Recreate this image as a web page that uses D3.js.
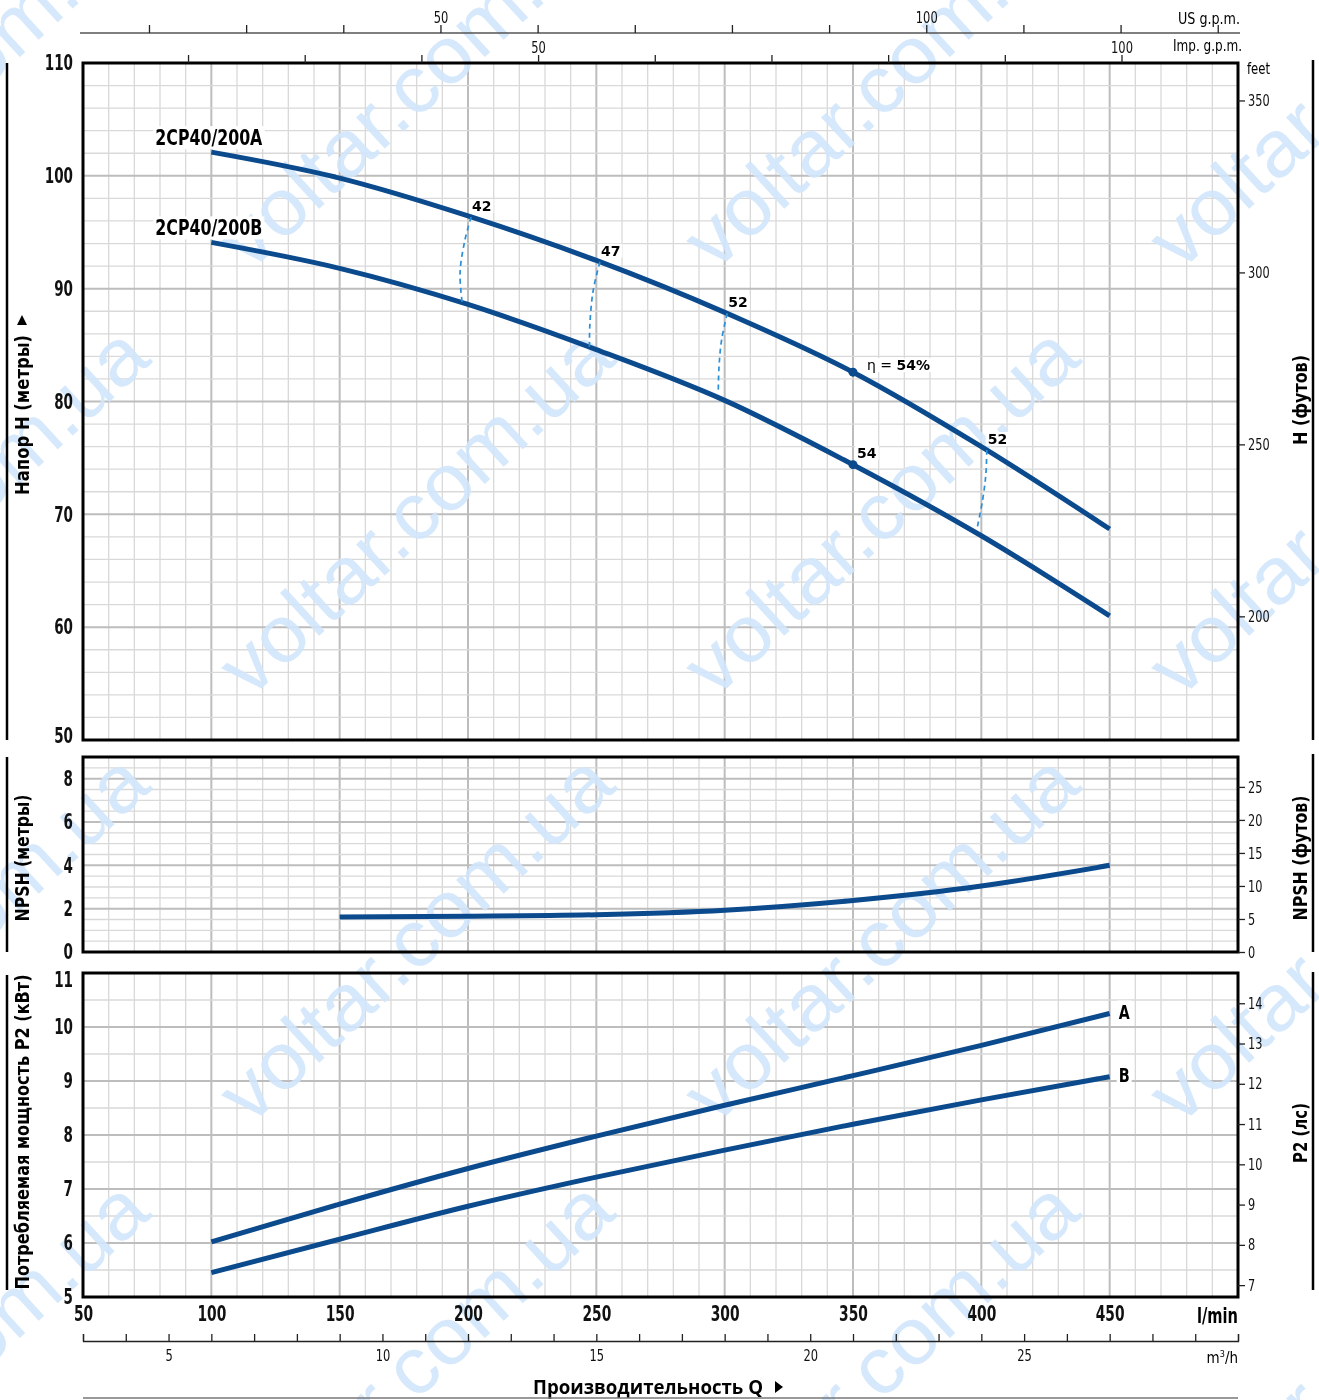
<!DOCTYPE html>
<html><head><meta charset="utf-8">
<script src="https://cdn.jsdelivr.net/npm/d3@7"></script>
<style>body{margin:0;background:#fff} svg{display:block}</style>
</head><body>
<svg id="chart" width="1319" height="1400"></svg>
<script>
// ---------------- data ----------------
const flowQ  = [100, 150, 200, 250, 300, 350, 400, 450];
const headA  = [102.1, 99.8, 96.45, 92.5, 87.9, 82.6, 76.0, 68.7];
const headB  = [94.1, 91.8, 88.6, 84.6, 80.1, 74.4, 68.1, 61.0];
const npshQ  = [150, 200, 250, 300, 350, 400, 450];
const npshM  = [1.62, 1.65, 1.72, 1.93, 2.38, 3.05, 4.0];
const powerA = [6.02, 6.72, 7.38, 7.98, 8.55, 9.1, 9.66, 10.25];
const powerB = [5.45, 6.07, 6.68, 7.22, 7.72, 8.2, 8.65, 9.08];
const modelNames = ["2CP40/200A", "2CP40/200B"];
const powerNames = ["A", "B"];
const effLabels = ["42", "47", "52", "52"];
const effLines = [
  [[201.2, 96.35], [198.8, 94.31], [196.9, 91.39], [197.7, 88.82]],
  [[251.4, 92.39], [248.8, 89.88], [247.5, 86.93], [247.3, 84.86]],
  [[301.0, 87.82], [298.8, 85.45], [297.8, 83.08], [297.5, 80.73]],
  [[402.1, 75.70], [401.8, 73.63], [400.5, 71.27], [398.2, 68.61]]
];
const bestQ = 350, bestEffLabel = "54";
const qTicks   = [50, 100, 150, 200, 250, 300, 350, 400, 450];
const hTicks   = [50, 60, 70, 80, 90, 100, 110];
const npshTicks = [0, 2, 4, 6, 8];
const pTicks   = [5, 6, 7, 8, 9, 10, 11];
const usTicks  = [20, 30, 40, 50, 60, 70, 80, 90, 100, 110, 120, 130];
const impTicks = [20, 30, 40, 50, 60, 70, 80, 90, 100];
const usLabels = [50, 100], impLabels = [50, 100];
const m3hTicks = d3.range(3, 31, 1);
const m3hLabels = [5, 10, 15, 20, 25];
const feetTicks = [200, 250, 300, 350];
const npshFeetTicks = [0, 5, 10, 15, 20, 25];
const hpTicks = [7, 8, 9, 10, 11, 12, 13, 14];

// ---------------- setup ----------------
const NARROW = "'Liberation Sans Narrow','DejaVu Sans Condensed','Arial Narrow',sans-serif";
const BOLDW = "'DejaVu Sans',sans-serif";
const BLUE = "#0b4a8c";
const svg = d3.select('#chart');
const X0 = 83, X1 = 1238;
const x = d3.scaleLinear().domain([50, 500]).range([X0, X1]);
const yH = d3.scaleLinear().domain([50, 110]).range([740, 63]);
const yN = d3.scaleLinear().domain([0, 9]).range([952, 757]);
const yP = d3.scaleLinear().domain([5, 11]).range([1297, 973]);
const panels = [
  {y: yH, lo: 50, hi: 110, minor: 2, major: 10},
  {y: yN, lo: 0, hi: 9, minor: 0.5, major: 2},
  {y: yP, lo: 5, hi: 11, minor: 0.5, major: 1}
];
const isMul = (v, m) => Math.abs(v / m - Math.round(v / m)) < 1e-6;
const fmt = d3.format('d');
function squeeze(sel, perChar) {
  sel.each(function () {
    const s = this.textContent;
    if (s) d3.select(this).attr('textLength', s.length * perChar).attr('lengthAdjust', 'spacingAndGlyphs');
  });
}

// grids
const gGrid = svg.append('g');
panels.forEach(p => {
  const [yb, yt] = p.y.range();
  d3.range(60, 500, 10).forEach(q => {
    const maj = isMul(q, 50);
    gGrid.append('line').attr('x1', x(q)).attr('x2', x(q)).attr('y1', yt).attr('y2', yb)
      .attr('stroke', maj ? '#bdbdbd' : '#d9d9d9').attr('stroke-width', maj ? 2 : 1.3);
  });
  d3.range(p.lo + p.minor, p.hi - 1e-6, p.minor).forEach(v => {
    const maj = isMul(v, p.major);
    gGrid.append('line').attr('x1', X0).attr('x2', X1).attr('y1', p.y(v)).attr('y2', p.y(v))
      .attr('stroke', maj ? '#bdbdbd' : '#d9d9d9').attr('stroke-width', maj ? 2 : 1.3);
  });
});

// watermark
const gW = svg.append('g').attr('opacity', 0.9);
[-50, 415, 880, 1345].forEach(cx => {
  [83, 510, 937, 1364].forEach(cy => {
    gW.append('text').text('voltar.com.ua')
      .attr('transform', `translate(${cx},${cy}) rotate(-42.5)`)
      .attr('text-anchor', 'middle').attr('dy', '0.35em')
      .attr('font-family', "'Liberation Sans',Arial,sans-serif").attr('font-size', 80)
      .attr('textLength', 500).attr('lengthAdjust', 'spacingAndGlyphs')
      .attr('fill', '#d2e6fb');
  });
});

// panel borders
panels.forEach(p => {
  const [yb, yt] = p.y.range();
  svg.append('rect').attr('x', X0).attr('y', yt).attr('width', X1 - X0).attr('height', yb - yt)
    .attr('fill', 'none').attr('stroke', '#000').attr('stroke-width', 3);
});

// ---------------- curves ----------------
const lineH = (ys) => d3.line().x((d, i) => x(flowQ[i])).y(d => yH(d)).curve(d3.curveMonotoneX)(ys);
[headA, headB].forEach(arr => {
  svg.append('path').attr('d', lineH(arr)).attr('fill', 'none').attr('stroke', BLUE).attr('stroke-width', 5);
});
svg.append('path')
  .attr('d', d3.line().x((d, i) => x(npshQ[i])).y(d => yN(d)).curve(d3.curveMonotoneX)(npshM))
  .attr('fill', 'none').attr('stroke', BLUE).attr('stroke-width', 5);
[powerA, powerB].forEach(arr => {
  svg.append('path')
    .attr('d', d3.line().x((d, i) => x(flowQ[i])).y(d => yP(d)).curve(d3.curveMonotoneX)(arr))
    .attr('fill', 'none').attr('stroke', BLUE).attr('stroke-width', 5);
});

// efficiency isolines
effLines.forEach(pts => {
  svg.append('path')
    .attr('d', d3.line().x(d => x(d[0])).y(d => yH(d[1])).curve(d3.curveCatmullRom)(pts))
    .attr('fill', 'none').attr('stroke', '#2b8fd8').attr('stroke-width', 1.7)
    .attr('stroke-dasharray', '5,4');
});
const bi = flowQ.indexOf(bestQ);
[headA[bi], headB[bi]].forEach(h => {
  svg.append('circle').attr('cx', x(bestQ)).attr('cy', yH(h)).attr('r', 4.5).attr('fill', BLUE);
});

// labels with white backgrounds
function boxedLabel(parts, tx, ty, size, family, len) {
  const g = svg.append('g');
  const t = g.append('text').attr('x', tx).attr('y', ty).attr('font-size', size).attr('fill', '#000')
    .attr('font-family', family);
  parts.forEach(p => t.append('tspan').text(p.t).attr('font-weight', p.b ? 'bold' : 'normal'));
  if (len) t.attr('textLength', len).attr('lengthAdjust', 'spacingAndGlyphs');
  const bb = t.node().getBBox();
  g.insert('rect', 'text').attr('x', bb.x - 2).attr('y', bb.y + 1).attr('width', bb.width + 4)
    .attr('height', bb.height - 2).attr('fill', '#fff');
  return g;
}
const effLabelPos = effLines.map(l => l[0]);
effLabels.forEach((lab, i) => {
  const [q, h] = effLabelPos[i];
  boxedLabel([{t: lab, b: true}], x(q) + 1, yH(h) - 6, 14, BOLDW);
});
boxedLabel([{t: 'η = ', b: false}, {t: bestEffLabel + '%', b: true}], x(bestQ) + 14, yH(headA[bi]) - 2, 14, BOLDW);
boxedLabel([{t: bestEffLabel, b: true}], x(bestQ) + 4, yH(headB[bi]) - 7, 14, BOLDW);

boxedLabel([{t: modelNames[0], b: true}], x(100) - 56, yH(headA[0]) - 7, 22, NARROW, 107);
boxedLabel([{t: modelNames[1], b: true}], x(100) - 56, yH(headB[0]) - 7, 22, NARROW, 107);
boxedLabel([{t: powerNames[0], b: true}], x(450) + 9, yP(powerA[7]) + 5, 20, NARROW, 11);
boxedLabel([{t: powerNames[1], b: true}], x(450) + 9, yP(powerB[7]) + 5, 20, NARROW, 11);

// ---------------- axes ----------------
function styleAxis(g, size, bold, perChar, removeDomain = true) {
  if (removeDomain) g.select('.domain').remove();
  g.selectAll('text').attr('font-family', NARROW).attr('font-size', size)
    .attr('font-weight', bold ? 'bold' : 'normal').attr('fill', '#111');
  squeeze(g.selectAll('text'), perChar);
  g.selectAll('line').attr('stroke', '#222').attr('stroke-width', 1.3);
  return g;
}
// left
const aH = styleAxis(svg.append('g').attr('transform', `translate(${X0},0)`)
  .call(d3.axisLeft(yH).tickValues(hTicks).tickFormat(fmt).tickSize(0).tickPadding(10)), 21, true, 9.4);
aH.selectAll('.tick text').filter(d => d === 50).attr('y', -4);
styleAxis(svg.append('g').attr('transform', `translate(${X0},0)`)
  .call(d3.axisLeft(yN).tickValues(npshTicks).tickFormat(fmt).tickSize(0).tickPadding(10)), 21, true, 9.4);
const aP = styleAxis(svg.append('g').attr('transform', `translate(${X0},0)`)
  .call(d3.axisLeft(yP).tickValues(pTicks).tickFormat(fmt).tickSize(0).tickPadding(10)), 21, true, 9.4);
aP.selectAll('.tick text').filter(d => d === 11).attr('y', 7);

// bottom l/min
styleAxis(svg.append('g').attr('transform', `translate(0,${yP.range()[0]})`)
  .call(d3.axisBottom(x).tickValues(qTicks).tickFormat(fmt).tickSize(0).tickPadding(9)), 21, true, 9.6);
svg.append('text').text('l/min').attr('x', X1).attr('y', 1323).attr('text-anchor', 'end')
  .attr('font-family', NARROW).attr('font-size', 21).attr('font-weight', 'bold')
  .attr('textLength', 41).attr('lengthAdjust', 'spacingAndGlyphs');

// bottom m3/h
const xM = d3.scaleLinear().domain([50 / 16.6667, 500 / 16.6667]).range([X0, X1]);
const aM = styleAxis(svg.append('g').attr('transform', 'translate(0,1341)')
  .call(d3.axisBottom(xM).tickValues(m3hTicks).tickSize(-7).tickPadding(9)
    .tickFormat(d => m3hLabels.includes(d) ? d : '')), 16, false, 7.3, false);
aM.select('.domain').attr('stroke', '#222').attr('stroke-width', 1.3);
const m3 = svg.append('text').attr('x', X1).attr('y', 1363).attr('text-anchor', 'end')
  .attr('font-family', NARROW).attr('font-size', 15);
m3.append('tspan').text('m');
m3.append('tspan').text('3').attr('font-size', 9).attr('dy', -6);
m3.append('tspan').text('/h').attr('dy', 6);

// top US g.p.m.
const xUS = d3.scaleLinear().domain([50 / 3.78541, 500 / 3.78541]).range([X0, X1]);
svg.append('line').attr('x1', 80).attr('x2', 1240).attr('y1', 33).attr('y2', 33)
  .attr('stroke', '#555').attr('stroke-width', 1.5);
styleAxis(svg.append('g').attr('transform', 'translate(0,33)')
  .call(d3.axisTop(xUS).tickValues(usTicks).tickSize(8).tickPadding(2)
    .tickFormat(d => usLabels.includes(d) ? d : '')), 16, false, 7.3);
svg.append('text').text('US g.p.m.').attr('x', 1240).attr('y', 24).attr('text-anchor', 'end')
  .attr('font-family', NARROW).attr('font-size', 16)
  .attr('textLength', 62).attr('lengthAdjust', 'spacingAndGlyphs');

// top Imp g.p.m.
const xImp = d3.scaleLinear().domain([50 / 4.54609, 500 / 4.54609]).range([X0, X1]);
styleAxis(svg.append('g').attr('transform', 'translate(0,63)')
  .call(d3.axisTop(xImp).tickValues(impTicks).tickSize(8).tickPadding(2)
    .tickFormat(d => impLabels.includes(d) ? d : '')), 16, false, 7.3);
svg.append('text').text('Imp. g.p.m.').attr('x', 1242).attr('y', 51).attr('text-anchor', 'end')
  .attr('font-family', NARROW).attr('font-size', 16)
  .attr('textLength', 69).attr('lengthAdjust', 'spacingAndGlyphs');

// right feet
const yFt = d3.scaleLinear().domain(yH.domain().map(v => v * 3.28084)).range(yH.range());
styleAxis(svg.append('g').attr('transform', `translate(${X1},0)`)
  .call(d3.axisRight(yFt).tickValues(feetTicks).tickFormat(fmt).tickSize(7).tickPadding(3)), 16, false, 7.2);
svg.append('text').text('feet').attr('x', 1247).attr('y', 74)
  .attr('font-family', NARROW).attr('font-size', 15)
  .attr('textLength', 23).attr('lengthAdjust', 'spacingAndGlyphs');
const yNFt = d3.scaleLinear().domain(yN.domain().map(v => v * 3.28084)).range(yN.range());
styleAxis(svg.append('g').attr('transform', `translate(${X1},0)`)
  .call(d3.axisRight(yNFt).tickValues(npshFeetTicks).tickFormat(fmt).tickSize(7).tickPadding(3)), 16, false, 7.2);
const yHp = d3.scaleLinear().domain(yP.domain().map(v => v / 0.7457)).range(yP.range());
styleAxis(svg.append('g').attr('transform', `translate(${X1},0)`)
  .call(d3.axisRight(yHp).tickValues(hpTicks).tickFormat(fmt).tickSize(7).tickPadding(3)), 16, false, 7.2);

// ---------------- titles ----------------
function vtitle(txt, cx, cy, len) {
  svg.append('text').text(txt).attr('transform', `translate(${cx},${cy}) rotate(-90)`)
    .attr('text-anchor', 'middle').attr('dy', '0.35em')
    .attr('font-family', NARROW).attr('font-size', 20).attr('font-weight', 'bold')
    .attr('textLength', len).attr('lengthAdjust', 'spacingAndGlyphs');
}
vtitle('Напор H (метры)', 22, 415, 160);
svg.append('path').attr('d', 'M17,325 L27,325 L22,315 Z').attr('fill', '#000');
vtitle('NPSH (метры)', 22, 858, 127);
vtitle('Потребляемая мощность P2 (кВт)', 22, 1132, 315);
vtitle('H (футов)', 1300, 400, 90);
vtitle('NPSH (футов)', 1300, 858, 125);
vtitle('P2 (лс)', 1300, 1133, 60);

[[63, 740], [757, 952], [975, 1290]].forEach(([a, b]) => {
  svg.append('line').attr('x1', 7).attr('x2', 7).attr('y1', a).attr('y2', b).attr('stroke', '#000').attr('stroke-width', 2.5);
  svg.append('line').attr('x1', 1313).attr('x2', 1313).attr('y1', a - 3).attr('y2', b).attr('stroke', '#000').attr('stroke-width', 2.5);
});

svg.append('text').text('Производительность Q').attr('x', 533).attr('y', 1394)
  .attr('font-family', "'Open Sans','DejaVu Sans',sans-serif").attr('font-size', 20).attr('font-weight', 'bold')
  .attr('textLength', 230).attr('lengthAdjust', 'spacingAndGlyphs');
svg.append('path').attr('d', 'M775,1381 L783,1387 L775,1393 Z').attr('fill', '#000');
svg.append('line').attr('x1', X0).attr('x2', X1).attr('y1', 1398).attr('y2', 1398)
  .attr('stroke', '#777').attr('stroke-width', 1.5);
</script>
</body></html>
